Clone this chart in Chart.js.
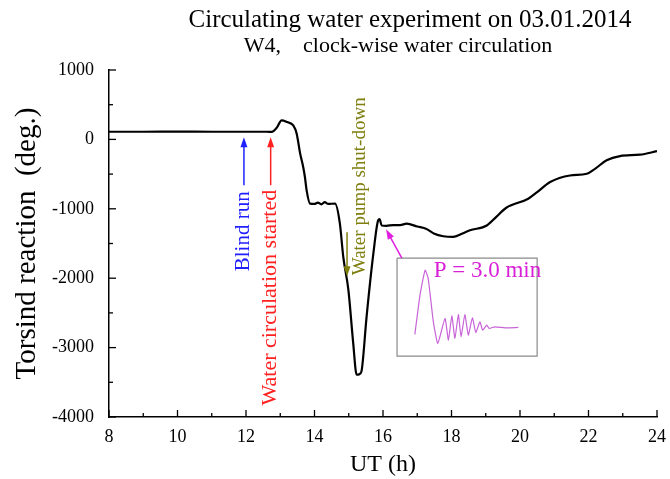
<!DOCTYPE html>
<html>
<head>
<meta charset="utf-8">
<script src="https://cdn.jsdelivr.net/npm/chart.js@4.4.1/dist/chart.umd.min.js"></script>
<style>
html, body { margin: 0; padding: 0; background: #fff; }
</style>
</head>
<body>
<canvas id="myChart" width="670" height="479"></canvas>
<script>
// main record, UT hours vs torsion (deg.)
var hours = [8, 9, 10, 11, 12, 12.6, 12.75, 12.9, 13.04, 13.2, 13.38, 13.48, 13.58, 13.67, 13.72, 13.77, 13.87,
    14.0, 14.1, 14.2, 14.3, 14.4, 14.6, 14.74, 14.84, 14.99, 15.13, 15.23, 15.32, 15.38, 15.52,
    15.72, 15.86, 15.9, 15.96, 16.1, 16.3, 16.5, 16.69, 17.0, 17.27, 17.5, 17.76, 18.05, 18.3, 18.54,
    19.03, 19.3, 19.6, 20.24, 20.5, 20.88, 21.46, 21.95, 22.2, 22.53, 22.92, 23.5, 24.0];
var torsion = [110, 110, 112, 110, 110, 110, 108, 170, 275, 250, 201, 82, -201, -398, -542, -734, -925,
    -930, -910, -935, -905, -930, -925, -1209, -1693, -2173, -2935, -3390, -3380, -3320, -2560,
    -1640, -1165, -1150, -1240, -1245, -1235, -1235, -1215, -1255, -1290, -1360, -1395, -1405, -1360, -1310,
    -1240, -1120, -985, -855, -760, -615, -520, -495, -420, -300, -240, -220, -170];

// inset (pendulum period sketch), placed in the main axes' units
var insetHours = [16.93, 17.08, 17.23, 17.32, 17.47, 17.60, 17.81, 17.91, 18.01, 18.10, 18.20, 18.28,
    18.39, 18.49, 18.61, 18.71, 18.83, 18.91, 19.03, 19.10, 19.27, 19.56, 19.95];
var insetTorsion = [-2810, -2245, -1885, -2005, -2629, -2940, -2580, -2892, -2542, -2868, -2523, -2844,
    -2523, -2820, -2571, -2782, -2629, -2748, -2676, -2724, -2700, -2715, -2710];
var boxHours = [16.41, 20.5, 20.5, 16.41, 16.41];
var boxTorsion = [-1712, -1712, -3122, -3122, -1712];

var xTickLabels = [8, 10, 12, 14, 16, 18, 20, 22, 24];
var yTickLabels = [1000, 0, -1000, -2000, -3000, -4000];

var arrows = [
    { from: [11.94, -660], to: [11.94, 30], color: '#2020ff' },
    { from: [12.72, -660], to: [12.72, 30], color: '#ff2020' },
    { from: [14.95, -1338], to: [14.95, -1971], color: '#7f7f10' },
    { from: [16.55, -1712], to: [16.09, -1295], color: '#e020e0' }
];
var notes = [
    { text: 'Blind run', at: [11.94, -1324], color: '#2020ff', size: 21, rot: true, align: 'center' },
    { text: 'Water circulation started', at: [12.72, -2280], color: '#ff2020', size: 22, rot: true, align: 'center' },
    { text: 'Water pump shut-down', at: [15.33, -676], color: '#7f7f10', size: 19, rot: true, align: 'center' },
    { text: 'P = 3.0 min', at: [17.48, -1898], color: '#d820d8', size: 23, rot: false, align: 'left' }
];

var serif = "'Liberation Serif', 'Times New Roman', serif";

function pts(xs, ys) {
    var out = new Array();
    for (var i = 0; i < xs.length; i++) out.push({ x: xs[i], y: ys[i] });
    return out;
}

var extras = {
    id: 'extras',
    afterDraw: function (chart) {
        var ctx = chart.ctx;
        var sx = chart.scales.x, sy = chart.scales.y;
        var a = chart.chartArea;
        ctx.save();
        // inward ticks
        ctx.strokeStyle = '#000';
        ctx.lineWidth = 1.3;
        sx.ticks.forEach(function (t) {
            var px = sx.getPixelForValue(t.value);
            var len = (t.value % 2 === 0) ? 7 : 4;
            ctx.beginPath(); ctx.moveTo(px, a.bottom); ctx.lineTo(px, a.bottom - len); ctx.stroke();
        });
        sy.ticks.forEach(function (t) {
            var py = sy.getPixelForValue(t.value);
            var len = (t.value % 1000 === 0) ? 7 : 4;
            ctx.beginPath(); ctx.moveTo(a.left, py); ctx.lineTo(a.left + len, py); ctx.stroke();
        });
        // arrows
        arrows.forEach(function (ar) {
            var x1 = sx.getPixelForValue(ar.from[0]), y1 = sy.getPixelForValue(ar.from[1]);
            var x2 = sx.getPixelForValue(ar.to[0]), y2 = sy.getPixelForValue(ar.to[1]);
            var ang = Math.atan2(y2 - y1, x2 - x1);
            ctx.strokeStyle = ar.color; ctx.fillStyle = ar.color; ctx.lineWidth = 1.5;
            ctx.beginPath(); ctx.moveTo(x1, y1);
            ctx.lineTo(x2 - 8 * Math.cos(ang), y2 - 8 * Math.sin(ang)); ctx.stroke();
            ctx.beginPath();
            ctx.moveTo(x2, y2);
            ctx.lineTo(x2 - 10 * Math.cos(ang) + 3.5 * Math.sin(ang), y2 - 10 * Math.sin(ang) - 3.5 * Math.cos(ang));
            ctx.lineTo(x2 - 10 * Math.cos(ang) - 3.5 * Math.sin(ang), y2 - 10 * Math.sin(ang) + 3.5 * Math.cos(ang));
            ctx.closePath(); ctx.fill();
        });
        // notes
        ctx.textBaseline = 'middle';
        notes.forEach(function (n) {
            var px = sx.getPixelForValue(n.at[0]), py = sy.getPixelForValue(n.at[1]);
            ctx.font = n.size + 'px ' + serif;
            ctx.fillStyle = n.color;
            ctx.textAlign = n.align;
            ctx.save();
            ctx.translate(px, py);
            if (n.rot) ctx.rotate(-Math.PI / 2);
            ctx.fillText(n.text, 0, 0);
            ctx.restore();
        });
        // titles
        ctx.fillStyle = '#000';
        ctx.textAlign = 'center';
        ctx.font = '25px ' + serif;
        ctx.fillText('Circulating water experiment on 03.01.2014', 410, 20);
        ctx.font = '22px ' + serif;
        ctx.fillText('W4,    clock-wise water circulation', 398, 46);
        ctx.restore();
    }
};

var data = {
    datasets: [
        {
            data: pts(hours, torsion),
            borderColor: '#000000',
            borderWidth: 2.2,
            pointRadius: 0,
            cubicInterpolationMode: 'monotone'
        },
        {
            data: pts(boxHours, boxTorsion),
            borderColor: '#8a8a8a',
            borderWidth: 1.2,
            pointRadius: 0,
            tension: 0
        },
        {
            data: pts(insetHours, insetTorsion),
            borderColor: '#c864d8',
            borderWidth: 1.2,
            pointRadius: 0,
            tension: 0.15
        }
    ]
};

var config = {
    type: 'line',
    data: data,
    plugins: [extras],
    options: {
        responsive: false,
        animation: false,
        layout: { padding: { top: 70, right: 13, left: 0, bottom: 0 } },
        elements: { line: { fill: false } },
        plugins: {
            legend: { display: false },
            tooltip: { enabled: false }
        },
        scales: {
            x: {
                type: 'linear',
                min: 8,
                max: 24,
                afterFit: function (s) { s.height = 62; s.paddingLeft = 0; s.paddingRight = 0; },
                grid: { display: true, drawOnChartArea: false, drawTicks: false },
                border: { display: true, color: '#000', width: 1.5 },
                ticks: {
                    stepSize: 1,
                    padding: 9,
                    maxRotation: 0,
                    autoSkip: false,
                    color: '#000',
                    font: { family: serif, size: 18 },
                    callback: function (v) { return xTickLabels.indexOf(v) >= 0 ? String(v) : ''; }
                },
                title: {
                    display: true,
                    text: 'UT (h)',
                    color: '#000',
                    font: { family: serif, size: 24 },
                    padding: { top: 0, bottom: 0 }
                }
            },
            y: {
                min: -4000,
                max: 1000,
                afterFit: function (s) { s.width = 109; },
                grid: { display: true, drawOnChartArea: false, drawTicks: false },
                border: { display: true, color: '#000', width: 1.5 },
                ticks: {
                    stepSize: 500,
                    padding: 15,
                    autoSkip: false,
                    color: '#000',
                    font: { family: serif, size: 18 },
                    callback: function (v) { return yTickLabels.indexOf(v) >= 0 ? String(v) : ''; }
                },
                title: {
                    display: true,
                    text: 'Torsind reaction  (deg.)',
                    color: '#000',
                    font: { family: serif, size: 29 },
                    padding: { top: 10, bottom: 0 }
                }
            }
        }
    }
};

var ctx = document.getElementById('myChart').getContext('2d');
var myChart = new Chart(ctx, config);
</script>
</body>
</html>
